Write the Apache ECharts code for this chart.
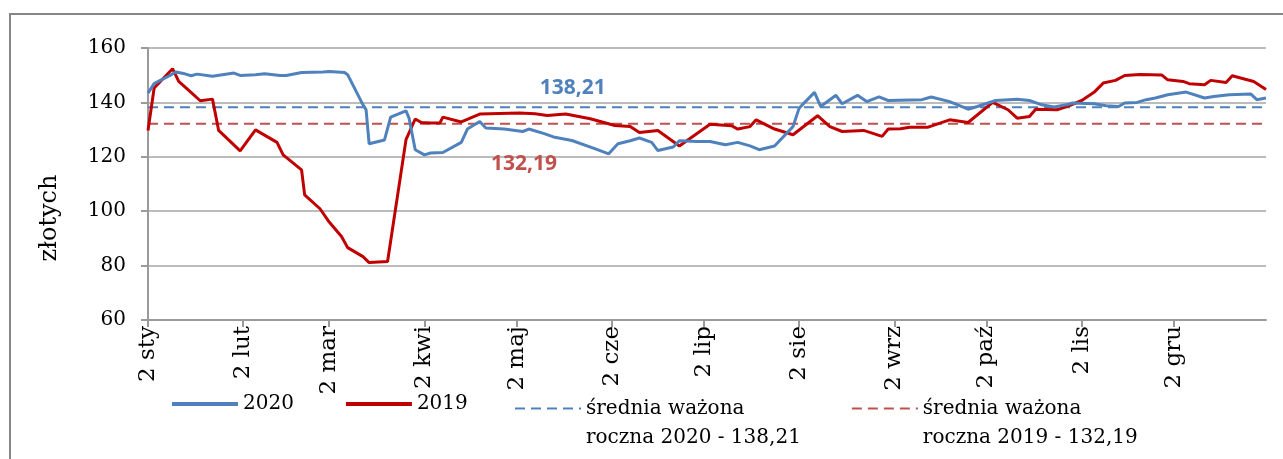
<!DOCTYPE html>
<html>
<head>
<meta charset="utf-8">
<script src="https://cdn.jsdelivr.net/npm/echarts@6/dist/echarts.min.js"></script>
<style>
  html, body { margin: 0; padding: 0; background: #fff; }
  #chart { width: 1283px; height: 459px; }
</style>
</head>
<body>
<div id="chart"></div>
<script>
// dni liczone od 2 stycznia
var tickDays = [0, 31, 59, 90, 120, 151, 181, 212, 243, 273, 304, 334];
var tickLabels = ['2 sty', '2 lut', '2 mar', '2 kwi', '2 maj', '2 cze', '2 lip', '2 sie', '2 wrz', '2 paź', '2 lis', '2 gru'];

var days2020 = [0, 2, 4, 7, 9, 12, 14, 16, 21, 28, 30, 35, 38, 43, 45, 50, 57, 59, 64, 65, 70, 71, 72, 77, 79, 84, 85, 87, 90, 92, 96,
  102, 104, 108, 110, 116, 122, 124, 129, 132, 138, 145, 150, 153, 157, 160, 164, 166, 171, 173, 179, 183, 188, 192, 196, 199,
  204, 210, 212, 217, 219, 224, 226, 231, 234, 238, 241, 252, 255, 261, 267, 270, 276, 283, 287, 291, 295, 299, 301, 308, 312,
  316, 318, 322, 325, 328, 332, 338, 344, 347, 352, 359, 361, 364];
var vals2020 = [143.4, 146.9, 148.1, 149.8, 151.2, 150.5, 149.8, 150.4, 149.6, 150.8, 149.9, 150.2, 150.5, 149.9, 149.9, 151.0, 151.2,
  151.4, 151.0, 150.2, 139.1, 137.3, 124.8, 126.2, 134.6, 136.9, 134.2, 122.6, 120.7, 121.4, 121.6,
  125.3, 130.2, 133.0, 130.6, 130.2, 129.3, 130.2, 128.5, 127.3, 126.0, 123.2, 121.1, 124.8, 125.9, 126.9, 125.3, 122.3, 123.6,
  125.9, 125.6, 125.6, 124.4, 125.3, 124.0, 122.6,
  124.0, 131.1, 137.9, 143.7, 138.5, 142.6, 139.5, 142.6, 140.3, 142.0, 140.7, 141.0, 142.0, 140.3, 137.5, 138.5, 140.7, 141.2,
  140.7, 139.1, 138.3, 139.1, 139.8, 139.5, 138.8,
  138.5, 139.8, 140.0, 141.0, 141.6, 142.8, 143.8, 141.6, 142.2, 142.8, 143.1, 141.0, 141.6];

var days2019 = [0, 2, 8, 10, 14, 17, 21, 23, 30, 35, 42, 44, 50, 51, 56, 59, 63, 65, 70, 72, 78, 84, 87, 89, 92, 95, 96,
  102, 108, 121, 126, 130, 136, 144, 152, 157, 160, 166, 173, 183, 190, 192, 196, 198,
  204, 210, 218, 222, 226, 233, 239, 241, 245, 248, 254, 261, 267, 275, 280, 283, 287, 289, 296,
  300, 304, 308, 311, 315, 318, 323, 330, 332, 337, 339, 344, 346, 351, 353, 360, 364];
var vals2019 = [129.7, 145.3, 152.4, 147.7, 143.7, 140.6, 141.2, 129.7, 122.2, 129.9, 125.3, 120.7, 115.2, 106.0, 100.9, 96.0,
  90.7, 86.6, 83.3, 81.1, 81.5, 126.3, 133.9, 132.6, 132.4, 132.4, 134.6,
  132.8, 135.7, 136.1, 135.8, 135.2, 135.7, 134.0, 131.5, 131.1, 128.9, 129.7, 124.0, 132.0, 131.4, 130.2, 131.1, 133.6,
  130.2, 128.1, 135.1, 131.1, 129.3, 129.7, 127.5, 130.2, 130.3, 130.9, 130.9, 133.6, 132.6, 140.0, 137.3, 134.2, 134.8,
  137.5, 137.3, 138.8, 140.7, 143.7, 147.1, 148.1, 149.9, 150.3, 150.1, 148.3, 147.7, 146.9, 146.5, 148.1, 147.3, 149.8,
  147.7, 144.7];

var avg2020 = 138.21;
var avg2019 = 132.19;
var yearEnd = 364;

function zip(xs, ys) {
  return xs.map(function (x, i) { return [x, ys[i]]; });
}

var serif = 'DejaVu Serif';
var blue = '#4f81bd';
var red = '#c00000';
var redAvg = '#c0504d';

var chart = echarts.init(document.getElementById('chart'));
chart.setOption({
  animation: false,
  graphic: [{
    type: 'rect',
    shape: { x: 10, y: 14, width: 1300, height: 470 },
    style: { fill: 'none', stroke: '#868686', lineWidth: 2 }
  }],
  grid: { left: 148, right: 17, top: 48, bottom: 139 },
  legend: [{
    data: ['2020', '2019'],
    left: 165, top: 389,
    itemWidth: 66, itemHeight: 14, itemGap: 50,
    itemStyle: { opacity: 0 },
    lineStyle: { width: 4 },
    textStyle: { fontFamily: serif, fontSize: 20, color: '#000' }
  }, {
    data: ['średnia ważona\nroczna 2020 - 138,21', 'średnia ważona\nroczna 2019 - 132,19'],
    left: 509, top: 360,
    itemWidth: 66, itemHeight: 14, itemGap: 50,
    itemStyle: { opacity: 0 },
    // pusta linia nad tekstem, zeby ikona stala przy pierwszej linii
    formatter: function (name) { return ' \n' + name; },
    textStyle: { fontFamily: serif, fontSize: 20, color: '#000', lineHeight: 29 }
  }],
  xAxis: {
    type: 'value',
    min: 0, max: yearEnd,
    axisLine: { lineStyle: { color: '#9a9a9a', width: 2 } },
    axisTick: { show: true, customValues: tickDays, length: 7, lineStyle: { color: '#9a9a9a', width: 2 } },
    axisLabel: {
      customValues: tickDays,
      rotate: 90,
      margin: 6,
      fontFamily: serif, fontSize: 23, color: '#000',
      formatter: function (v) { return tickLabels[tickDays.indexOf(v)]; }
    },
    splitLine: { show: false }
  },
  yAxis: {
    type: 'value',
    min: 60, max: 160, interval: 20,
    name: 'złotych',
    nameLocation: 'middle',
    nameRotate: 90,
    nameGap: 86,
    nameTextStyle: { fontFamily: serif, fontSize: 24, color: '#000', padding: [0, 68, 0, 0] },
    axisLine: { show: true, lineStyle: { color: '#9a9a9a', width: 2 } },
    axisTick: { show: true, length: 7, lineStyle: { color: '#9a9a9a', width: 2 } },
    axisLabel: { margin: 22, fontFamily: serif, fontSize: 20, color: '#000' },
    splitLine: { lineStyle: { color: '#a6a6a6', width: 1.5 } }
  },
  series: [{
    name: 'średnia ważona\nroczna 2020 - 138,21',
    type: 'line',
    symbol: 'none',
    z: 1,
    lineStyle: { color: blue, width: 2, type: [10, 6] },
    itemStyle: { color: blue },
    data: [[0, avg2020], [yearEnd, avg2020]],
    markPoint: {
      symbol: 'circle', symbolSize: 2,
      itemStyle: { color: 'rgba(0,0,0,0)' },
      label: { show: true, position: 'inside', color: blue, fontFamily: 'Open Sans', fontWeight: 'bold', fontSize: 21,
        formatter: '138,21' },
      data: [{ coord: [138.3, 145.3] }]
    }
  }, {
    name: 'średnia ważona\nroczna 2019 - 132,19',
    type: 'line',
    symbol: 'none',
    z: 1,
    lineStyle: { color: redAvg, width: 2, type: [10, 6] },
    itemStyle: { color: redAvg },
    data: [[0, avg2019], [yearEnd, avg2019]],
    markPoint: {
      symbol: 'circle', symbolSize: 2,
      itemStyle: { color: 'rgba(0,0,0,0)' },
      label: { show: true, position: 'inside', color: redAvg, fontFamily: 'Open Sans', fontWeight: 'bold', fontSize: 21,
        formatter: '132,19' },
      data: [{ coord: [122.4, 117.4] }]
    }
  }, {
    name: '2020',
    type: 'line',
    symbol: 'none',
    z: 3,
    lineStyle: { color: blue, width: 3 },
    itemStyle: { color: blue },
    data: zip(days2020, vals2020)
  }, {
    name: '2019',
    type: 'line',
    symbol: 'none',
    z: 2,
    lineStyle: { color: red, width: 3 },
    itemStyle: { color: red },
    data: zip(days2019, vals2019)
  }]
});
</script>
</body>
</html>
